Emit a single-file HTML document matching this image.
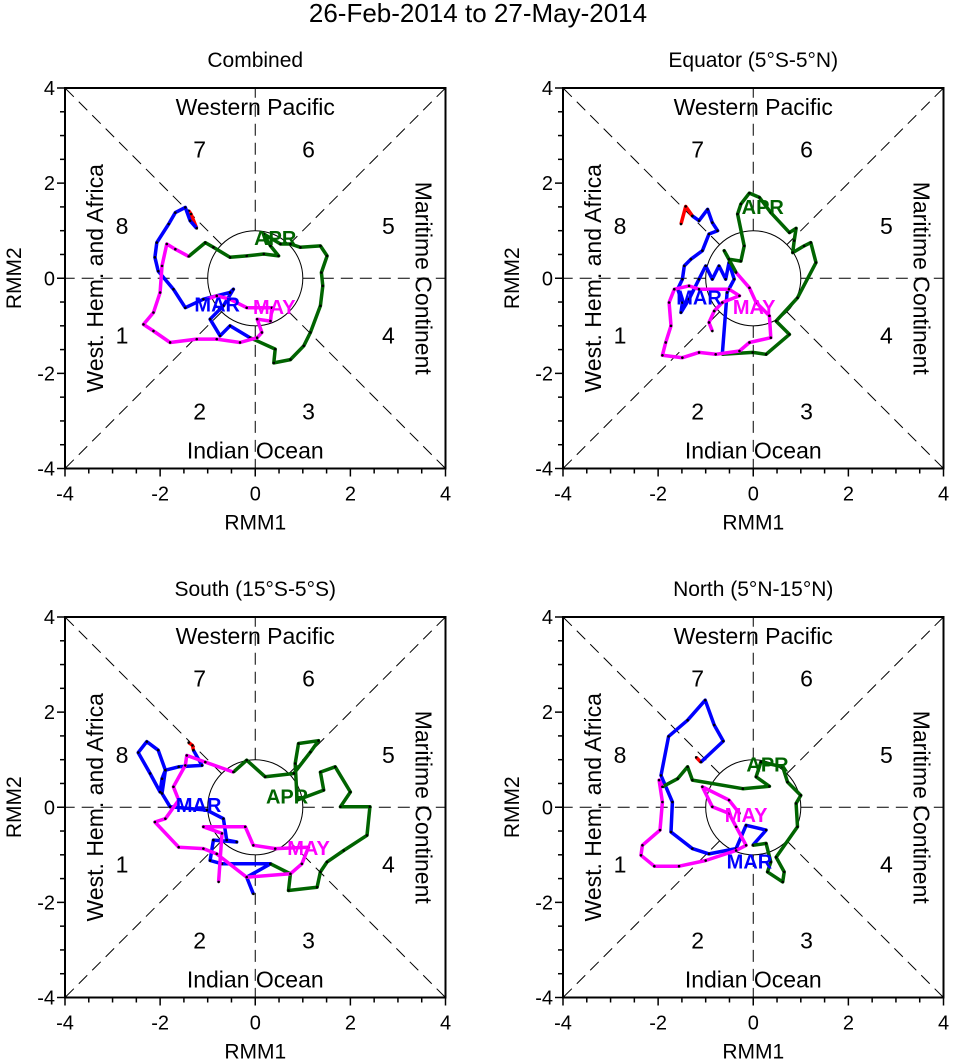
<!DOCTYPE html>
<html><head><meta charset="utf-8"><style>
body{margin:0;background:#fff}
svg{display:block;font-family:"Liberation Sans",Arial,sans-serif}
</style></head><body>
<svg id="s" width="956" height="1060" viewBox="0 0 956 1060">
<text x="478" y="22" text-anchor="middle" font-size="26">26-Feb-2014 to 27-May-2014</text>
</svg>
<script>
// Panel titles
const panelTitles = ["Combined","Equator (5°S-5°N)","South (15°S-5°S)","North (5°N-15°N)"];
const tickLabels = ["-4","-2","0","2","4"];
const tickValues = [-4,-2,0,2,4];
const monthNames = ["FEB","MAR","APR","MAY"];
const monthColors = ["#ff0000","#0000ff","#006400","#ff00ff"];

// Panel 1 tracks [x,y]
const p1Feb = [[-1.40,1.42],[-1.35,1.35],[-1.23,1.05]];
const p1Mar = [[-1.23,1.05],[-1.37,1.21],[-1.47,1.49],[-1.68,1.38],[-1.82,1.14],[-2.07,0.75],[-2.11,0.44],[-2.04,0.15],[-1.72,-0.23],[-1.47,-0.62],[-1.09,-0.44],[-0.53,-0.30],[-0.46,-0.23],[-0.67,-0.58],[-0.95,-0.86],[-0.74,-1.21],[-0.53,-1.00],[-0.11,-1.25]];
const p1Apr = [[-0.11,-1.25],[0.42,-1.49],[0.39,-1.78],[0.74,-1.71],[1.02,-1.42],[1.16,-1.14],[1.37,-0.58],[1.42,-0.16],[1.39,0.12],[1.51,0.47],[1.37,0.68],[0.95,0.65],[0.74,0.72],[0.53,0.72],[0.18,0.93],[0.32,0.68],[0.49,0.47],[0.18,0.51],[-0.18,0.47],[-0.53,0.44],[-0.88,0.65],[-1.05,0.75],[-1.40,0.46]];
const p1May = [[-1.40,0.46],[-1.68,0.61],[-1.86,0.72],[-1.96,0.26],[-2.00,-0.30],[-2.14,-0.72],[-2.35,-0.97],[-2.14,-1.11],[-1.79,-1.35],[-1.23,-1.28],[-0.81,-1.28],[-0.32,-1.35],[0.04,-1.25],[0.14,-1.14],[0.04,-0.86],[0.32,-0.90],[0.35,-0.62],[-0.18,-0.62],[-0.53,-0.44],[-0.81,-0.37],[-1.02,-0.44]];
// Panel 2
const p2Feb = [[-1.52,1.14],[-1.42,1.51],[-1.28,1.31]];
const p2Mar = [[-1.28,1.31],[-1.14,1.21],[-0.96,1.45],[-0.86,1.17],[-0.75,1.00],[-0.93,0.93],[-1.07,0.58],[-1.31,0.40],[-1.45,0.26],[-1.49,-0.02],[-1.59,-0.23],[-1.49,-0.51],[-1.52,-0.72],[-1.35,-0.44],[-1.14,-0.02],[-1.00,0.26],[-0.86,-0.02],[-0.72,0.26],[-0.58,-0.02],[-0.51,0.33],[-0.40,-0.02],[-0.55,-0.30],[-0.65,-1.60]];
const p2Apr = [[-0.65,-1.60],[-0.01,-1.56],[0.27,-1.60],[0.76,-1.18],[0.48,-0.90],[0.93,-0.41],[1.32,0.33],[1.21,0.75],[1.07,0.68],[0.83,0.54],[0.86,0.79],[0.90,1.05],[0.76,0.96],[0.37,1.38],[0.13,1.70],[-0.08,1.79],[-0.26,1.56],[-0.33,1.35],[-0.19,0.68],[-0.26,0.36],[-0.51,0.40],[-0.61,0.58],[-0.36,0.12]];
const p2May = [[-0.36,0.12],[-0.08,-0.20],[0.06,-0.51],[0.34,-0.79],[0.37,-1.25],[-0.08,-1.35],[-0.29,-1.53],[-0.79,-1.60],[-1.14,-1.56],[-1.49,-1.67],[-1.91,-1.62],[-1.84,-1.35],[-1.73,-1.00],[-1.77,-0.51],[-1.66,-0.23],[-1.35,-0.16],[-1.14,-0.23],[-0.51,-0.23],[-0.29,-0.37],[-0.65,-0.51],[-0.82,-0.69],[-0.93,-0.93],[-0.86,-1.11]];
// Panel 3
const p3Feb = [[-1.40,1.36],[-1.32,1.30],[-1.30,1.20]];
const p3Mar = [[-1.30,1.20],[-1.12,0.88],[-1.61,0.85],[-1.89,0.78],[-1.96,0.60],[-2.00,0.32],[-2.21,0.71],[-2.46,1.15],[-2.28,1.38],[-2.04,1.20],[-1.89,0.78],[-1.96,0.29],[-1.79,0.01],[-1.02,-0.06],[-0.67,-0.24],[-0.60,-0.69],[-0.39,-0.73],[-0.88,-0.69],[-0.95,-1.12],[-0.70,-1.19],[0.32,-1.19],[-0.18,-1.47],[-0.04,-1.82]];
const p3Apr = [[0.32,-1.19],[0.74,-1.40],[0.70,-1.75],[1.30,-1.68],[1.37,-1.36],[1.51,-1.15],[1.86,-0.91],[2.35,-0.59],[2.41,0.01],[1.79,0.01],[2.00,0.32],[1.68,0.85],[1.37,0.74],[1.44,0.36],[0.88,0.15],[0.84,0.92],[0.91,1.34],[1.33,1.40],[1.16,1.16],[0.81,0.71],[0.21,0.64],[-0.18,0.99],[-0.46,0.74]];
const p3May = [[-0.46,0.74],[-1.05,0.95],[-1.44,1.09],[-1.47,0.88],[-1.72,0.43],[-1.61,0.15],[-1.89,-0.24],[-2.11,-0.31],[-1.61,-0.84],[-1.09,-0.87],[-0.81,-0.98],[-0.18,-1.47],[0.74,-1.40],[0.98,-1.19],[1.12,-0.84],[0.42,-0.87],[-0.04,-0.80],[-0.21,-0.41],[-1.09,-0.41],[-0.70,-0.55],[-0.77,-1.57]];
// Panel 4
const p4Feb = [[-1.20,1.05],[-1.10,0.95]];
const p4Mar = [[-1.10,0.95],[-0.63,1.39],[-0.82,1.73],[-1.01,2.25],[-1.38,1.83],[-1.78,1.49],[-1.94,0.67],[-1.70,0.11],[-1.73,-0.52],[-1.28,-0.87],[-0.93,-0.98],[-0.36,-0.87],[-0.15,-0.38],[0.27,-0.48],[-0.01,-0.80]];
const p4Apr = [[-0.01,-0.80],[0.27,-0.76],[0.37,-1.15],[0.30,-1.36],[0.62,-1.57],[0.65,-1.36],[0.48,-1.05],[0.93,-0.41],[0.90,0.08],[1.00,0.25],[0.72,0.53],[0.62,0.85],[0.16,0.95],[0.06,0.64],[0.34,0.44],[-0.22,0.39],[-1.28,0.57],[-1.38,0.85],[-1.59,0.60],[-1.91,0.43]];
const p4May = [[-1.91,0.43],[-1.98,0.57],[-1.91,0.11],[-1.96,-0.48],[-2.33,-0.80],[-2.36,-1.01],[-2.08,-1.24],[-1.56,-1.24],[-1.00,-1.12],[-0.36,-0.91],[-0.15,-0.80],[-0.36,-0.41],[-0.51,-0.13],[-0.86,0.01],[-1.07,0.43],[-0.51,0.15],[-0.29,-0.13]];

// month label positions per panel [MAR,APR,MAY]
const labelPos = [
  [[-0.8,-0.55],[0.42,0.85],[0.4,-0.6]],
  [[-1.14,-0.4],[0.2,1.5],[0.02,-0.6]],
  [[-1.19,0.05],[0.67,0.23],[1.12,-0.86]],
  [[-0.08,-1.14],[0.30,0.9],[-0.15,-0.16]]
];

const panels = [
  {ox:65, oy:88, tracks:[p1Feb,p1Mar,p1Apr,p1May]},
  {ox:563,oy:88, tracks:[p2Feb,p2Mar,p2Apr,p2May]},
  {ox:65, oy:617,tracks:[p3Feb,p3Mar,p3Apr,p3May]},
  {ox:563,oy:617,tracks:[p4Feb,p4Mar,p4Apr,p4May]}
];
const W = 380.5, S = W/8;
const NS = "http://www.w3.org/2000/svg";
const svg = document.getElementById('s');
function mk(tag, attrs, parent, txt){
  const e = document.createElementNS(NS, tag);
  for (const k in attrs) e.setAttribute(k, attrs[k]);
  if (txt !== undefined) e.textContent = txt;
  (parent||svg).appendChild(e);
  return e;
}
panels.forEach((p, pi) => {
  const g = mk('g', {});
  
  
  const X = v => p.ox + (v+4)*S;
  const Y = v => p.oy + (4-v)*S;
  const cx = X(0), cy = Y(0), r = S;
  const t = mk('text', {x: cx, y: p.oy-21, 'text-anchor':'middle', 'font-size':21}, g, panelTitles[pi]);
  
  
  const dirs = [[1,0],[-1,0],[0,1],[0,-1],[1,1],[1,-1],[-1,1],[-1,-1]];
  dirs.forEach(d => {
    const n = Math.hypot(d[0],d[1]);
    const ln = mk('line', {x1: cx + d[0]/n*r, y1: cy - d[1]/n*r, x2: X(4*d[0]), y2: Y(4*d[1]), stroke:'#000', 'stroke-width':1, 'stroke-dasharray':'12,7'}, g);
    
    
  });
  const c = mk('circle', {cx, cy, r, fill:'none', stroke:'#000', 'stroke-width':1}, g);
  
  
  const box = mk('rect', {x:p.ox, y:p.oy, width:W, height:W, fill:'none', stroke:'#000', 'stroke-width':2}, g);
  
  
  for (let v=-4; v<=4.001; v+=0.5){
    const major = Math.abs(v%2) < 0.01;
    const L = major ? 8 : 5;
    mk('line',{x1:X(v),y1:Y(-4),x2:X(v),y2:Y(-4)+L,stroke:'#000','stroke-width':1.5},g);
    mk('line',{x1:X(-4),y1:Y(v),x2:X(-4)-L,y2:Y(v),stroke:'#000','stroke-width':1.5},g);
  }
  tickValues.forEach((v,i) => {
    const a = mk('text',{x:X(v),y:Y(-4)+32,'text-anchor':'middle','font-size':20},g,tickLabels[i]);
    
    
    const b = mk('text',{x:X(-4)-10,y:Y(v)+7,'text-anchor':'end','font-size':20},g,tickLabels[i]);
    
    
  });
  const xt = mk('text',{x:cx,y:Y(-4)+61,'text-anchor':'middle','font-size':21},g,'RMM1');
  
  
  const yt = mk('text',{x:p.ox-44,y:cy,'text-anchor':'middle','font-size':21,transform:`rotate(-90 ${p.ox-44} ${cy})`},g,'RMM2');
  
  
  const rl = [
    ['Western Pacific', cx, p.oy+27, 0],
    ['Indian Ocean', cx, p.oy+W-10, 0],
    ['West. Hem. and Africa', p.ox+38, cy, -90],
    ['Maritime Continent', p.ox+W-30, cy, 90]
  ];
  rl.forEach(q => {
    const e = mk('text',{x:q[1],y:q[2],'text-anchor':'middle','font-size':23,transform:`rotate(${q[3]} ${q[1]} ${q[2]})`},g,q[0]);
    
    
  });
  const ph = [['7',-1.17,2.71],['6',1.12,2.71],['8',-2.8,1.1],['5',2.8,1.1],['1',-2.8,-1.2],['4',2.8,-1.2],['2',-1.17,-2.8],['3',1.12,-2.8]];
  ph.forEach(q => {
    const e = mk('text',{x:X(q[1]),y:Y(q[2])+8,'text-anchor':'middle','font-size':23},g,q[0]);
    
    
  });
  p.tracks.forEach((tr, mi) => {
    const d = tr.map((pt,i)=>(i?'L':'M')+X(pt[0]).toFixed(1)+' '+Y(pt[1]).toFixed(1)).join(' ');
    const path = mk('path',{d, fill:'none', stroke:monthColors[mi], 'stroke-width':3.5, 'stroke-linejoin':'round'}, g);
    
    
    tr.forEach(pt => {
      const dot = mk('circle',{cx:X(pt[0]),cy:Y(pt[1]),r:1.3,fill:'#000'},g);
      
      
    });
  });
  labelPos[pi].forEach((lp, k) => {
    const e = mk('text',{x:X(lp[0]),y:Y(lp[1])+7,'text-anchor':'middle','font-size':20,'font-weight':'bold',fill:monthColors[k+1]},g,monthNames[k+1]);
    
    
  });
});
</script>
</body></html>
